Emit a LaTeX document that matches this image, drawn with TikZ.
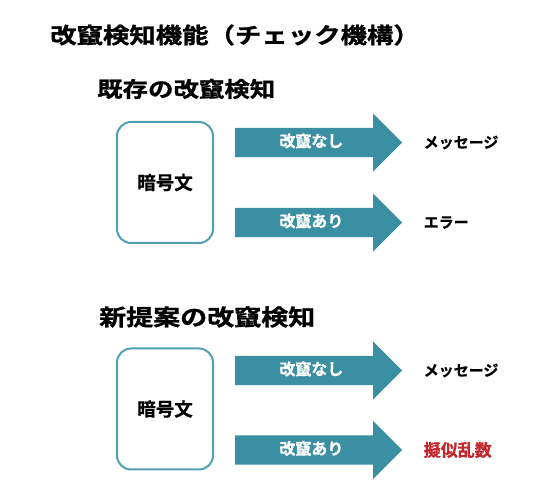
\documentclass[tikz,border=0pt]{standalone}
\usepackage{fontspec}
\newfontfamily\jpwide[FakeStretch=1.2,BoldFont={Noto Sans CJK JP Bold},BoldFeatures={FakeBold=1.2}]{Noto Sans CJK JP}
\newfontfamily\jp[BoldFont={Noto Sans CJK JP Bold},BoldFeatures={FakeBold=0.8}]{Noto Sans CJK JP}
\usetikzlibrary{positioning,shapes.arrows}
\definecolor{arrowteal}{RGB}{58,143,163}
\definecolor{boxteal}{RGB}{80,160,180}
\definecolor{alertred}{RGB}{196,40,44}

\begin{document}
\begin{tikzpicture}[
  x=1pt,y=-1pt,
  title/.style={font=\jpwide\bfseries\fontsize{22}{26}\selectfont,anchor=west,inner sep=0pt},
  heading/.style={font=\jpwide\bfseries\fontsize{21.2}{25}\selectfont,anchor=west,inner sep=0pt},
  cipher/.style={draw=boxteal,line width=2pt,rounded corners=14pt,fill=white,minimum width=96pt,minimum height=121pt,font=\jp\bfseries\fontsize{18.5}{22}\selectfont},
  flow/.style={single arrow,fill=arrowteal,draw=none,single arrow head extend=14.5pt,minimum height=167pt,text height=12pt,text depth=3pt,inner ysep=7pt,inner xsep=4pt,anchor=west,text=white,font=\jp\bfseries\fontsize{16}{19}\selectfont},
  result/.style={anchor=west,inner sep=0pt,font=\jp\bfseries\fontsize{15}{18}\selectfont}
]
\useasboundingbox (0,0) rectangle (550,500);
\node[title] (t) at (50,35) {改竄検知機能（チェック機構）};
\node[heading] (h1) at (97,89) {既存の改竄検知};
\node[cipher] (c1) at (165,182.5) {暗号文};
\node[flow] (a1) at (235,142.5) {改竄なし};
\node[flow] (a2) at (235,222.5) {改竄あり};
\node[result,right=21pt of a1] (r1) {メッセージ};
\node[result,right=21pt of a2] (r2) {エラー};
\node[heading,font=\jpwide\bfseries\fontsize{22.5}{26}\selectfont] (h2) at (99,317) {新提案の改竄検知};
\node[cipher] (c2) at (165,409) {暗号文};
\node[flow] (a3) at (235,370.5) {改竄なし};
\node[flow] (a4) at (235,450) {改竄あり};
\node[result,right=21pt of a3] (r3) {メッセージ};
\node[result,right=21pt of a4,text=alertred,font=\jp\bfseries\fontsize{17}{20}\selectfont] (r4) {擬似乱数};
\end{tikzpicture}
\end{document}
